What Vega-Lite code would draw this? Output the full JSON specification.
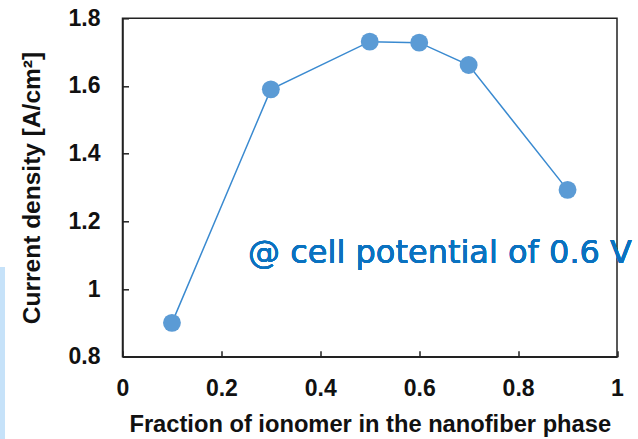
{
  "$schema": "https://vega.github.io/schema/vega-lite/v6.json",
  "width": 494.5,
  "height": 338.4,
  "autosize": {"type": "none"},
  "padding": {"left": 122.5, "top": 18.3, "right": 21, "bottom": 82.3},
  "background": "white",
  "config": {
    "view": {"stroke": "#222", "strokeWidth": 1.5},
    "axis": {
      "grid": false,
      "domainColor": "#222",
      "domainWidth": 1.5,
      "tickColor": "#222",
      "tickWidth": 1.5,
      "tickSize": -6,
      "labelFont": "Liberation Sans",
      "labelFontWeight": "bold",
      "labelFontSize": 23,
      "labelColor": "#111",
      "titleFont": "Liberation Sans",
      "titleFontWeight": "bold",
      "titleColor": "#111",
      "labelFlush": false,
      "labelOverlap": false
    }
  },
  "data": {
    "values": [
      {"fraction": 0.1, "current": 0.90},
      {"fraction": 0.3, "current": 1.59},
      {"fraction": 0.5, "current": 1.731},
      {"fraction": 0.6, "current": 1.728},
      {"fraction": 0.7, "current": 1.662},
      {"fraction": 0.9, "current": 1.293}
    ]
  },
  "encoding": {
    "x": {
      "field": "fraction",
      "type": "quantitative",
      "scale": {"domain": [0, 1], "nice": false, "zero": false},
      "axis": {
        "title": "Fraction of ionomer in the nanofiber phase",
        "values": [0, 0.2, 0.4, 0.6, 0.8, 1],
        "format": "~g",
        "labelPadding": 27,
        "titleFontSize": 23.7,
        "titlePadding": 12
      }
    },
    "y": {
      "field": "current",
      "type": "quantitative",
      "scale": {"domain": [0.8, 1.8], "nice": false, "zero": false},
      "axis": {
        "title": "Current density [A/cm²]",
        "values": [0.8, 1, 1.2, 1.4, 1.6, 1.8],
        "format": "~g",
        "labelPadding": 28.5,
        "titleFontSize": 24.5,
        "titlePadding": 24
      }
    }
  },
  "layer": [
    {
      "mark": {"type": "rect", "color": "#c6e2f9"},
      "encoding": {
        "x": {"datum": -0.2477},
        "x2": {"datum": -0.2376},
        "y": {"datum": 1.065},
        "y2": {"datum": 0.557}
      }
    },
    {
      "mark": {"type": "line", "color": "#3a8ad0", "strokeWidth": 1.5}
    },
    {
      "mark": {"type": "point", "filled": true, "opacity": 1, "size": 320, "color": "#5b9bd5", "shape": "circle"}
    },
    {
      "mark": {"type": "text", "text": "@ cell potential of 0.6 V", "font": "DejaVu Sans", "fontWeight": "normal", "fontSize": 32, "color": "#0a72c0", "align": "left", "baseline": "alphabetic"},
      "encoding": {
        "x": {"datum": 0.254},
        "y": {"datum": 1.078}
      }
    }
  ]
}
